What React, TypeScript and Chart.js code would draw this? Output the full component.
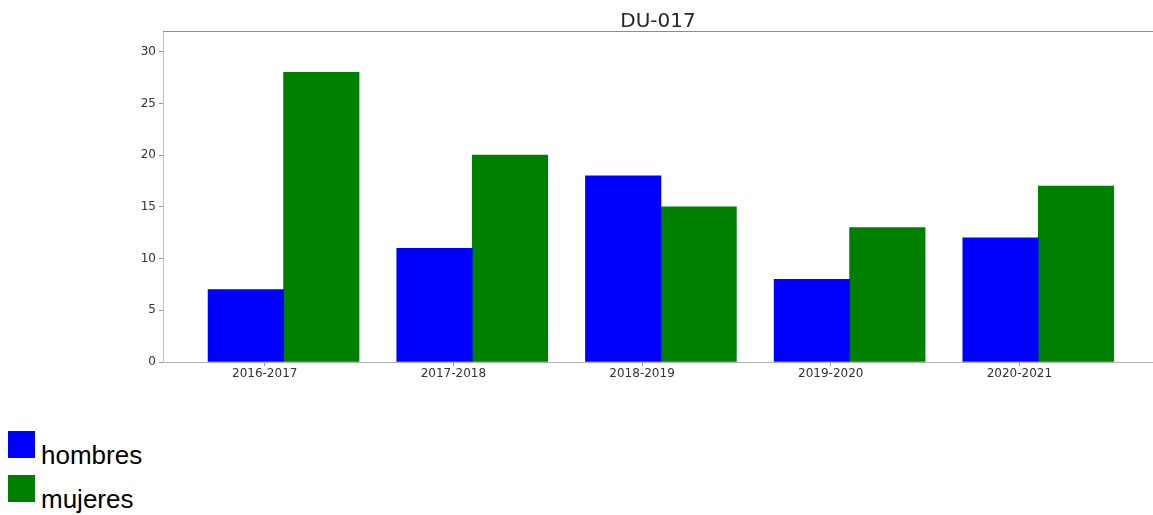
import React, { useEffect, useRef } from "react";
import { Chart, registerables } from "chart.js";

Chart.register(...registerables);

const categories = ["2016-2017", "2017-2018", "2018-2019", "2019-2020", "2020-2021"];
const hombres = [7, 11, 18, 8, 12];
const mujeres = [28, 20, 15, 13, 17];
const seriesNames = ["hombres", "mujeres"];
const seriesColors = ["#0000ff", "#008000"];
const titleText = "DU-017";

const topBorder = {
  id: "topBorder",
  afterDraw(chart: any) {
    const { ctx, chartArea } = chart;
    ctx.save();
    ctx.strokeStyle = "#8c8c8c";
    ctx.lineWidth = 1;
    ctx.beginPath();
    ctx.moveTo(chartArea.left, chartArea.top + 0.5);
    ctx.lineTo(chartArea.right, chartArea.top + 0.5);
    ctx.stroke();
    ctx.restore();
  },
};

export default function App() {
  const ref = useRef<HTMLCanvasElement>(null);

  useEffect(() => {
    if (!ref.current) return;
    const chart = new Chart(ref.current, {
      type: "bar",
      data: {
        datasets: [
          {
            label: seriesNames[0],
            data: hombres.map((v, i) => ({ x: i - 0.2, y: v })),
            backgroundColor: seriesColors[0],
            borderWidth: 0,
          },
          {
            label: seriesNames[1],
            data: mujeres.map((v, i) => ({ x: i + 0.2, y: v })),
            backgroundColor: seriesColors[1],
            borderWidth: 0,
          },
        ],
      },
      plugins: [topBorder],
      options: {
        animation: false,
        responsive: true,
        maintainAspectRatio: false,
        grouped: false,
        barPercentage: 1,
        categoryPercentage: 1,
        layout: { padding: { left: 0, right: 0, top: 0, bottom: 0 } },
        plugins: {
          legend: { display: false },
          tooltip: { enabled: false },
          title: {
            display: true,
            text: titleText,
            fullSize: false,
            color: "#262626",
            font: { family: "DejaVu Sans", size: 20, weight: "normal" },
            padding: { top: 10, bottom: -3 },
          },
        },
        scales: {
          x: {
            type: "linear",
            min: -0.639,
            max: 4.608,
            offset: false,
            grid: { display: true, drawOnChartArea: false, drawTicks: true, tickLength: 4, color: "#9a9a9a", offset: false },
            border: { display: true, color: "#b0b0b0", width: 1 },
            afterBuildTicks: (scale: any) => {
              scale.ticks = categories.map((_, i) => ({ value: i - 0.1 }));
            },
            afterFit: (scale: any) => {
              scale.height = 26;
            },
            ticks: {
              autoSkip: false,
              maxRotation: 0,
              padding: 1,
              color: "#333333",
              font: { family: "DejaVu Sans", size: 12 },
              callback: (_v: any, index: number) => categories[index],
            },
          },
          y: {
            type: "linear",
            min: 0,
            max: 32,
            grid: { display: true, drawOnChartArea: false, drawTicks: true, tickLength: 4, color: "#9a9a9a" },
            border: { display: true, color: "#c0c0c0", width: 1 },
            afterFit: (scale: any) => {
              scale.width = 163;
            },
            ticks: {
              stepSize: 5,
              includeBounds: false,
              padding: 3,
              color: "#333333",
              font: { family: "DejaVu Sans", size: 12 },
            },
          },
        },
      } as any,
    });
    return () => chart.destroy();
  }, []);

  const legendFont = '"Liberation Sans", Arial, sans-serif';

  return (
    <div style={{ position: "relative", width: 1153, height: 515, overflow: "hidden" }}>
      <style>{"body{margin:0}"}</style>
      <div style={{ position: "absolute", left: 0, top: 0, width: 1153, height: 388 }}>
        <canvas ref={ref} />
      </div>
      <div style={{ position: "absolute", left: 8, top: 431 }}>
        {seriesNames.map((name, i) => (
          <div key={name} style={{ position: "absolute", left: 0, top: i * 44, width: 200, height: 44 }}>
            <div
              style={{
                position: "absolute",
                left: 0,
                top: 0,
                width: 27,
                height: 27,
                background: seriesColors[i],
              }}
            />
            <span
              style={{
                position: "absolute",
                left: 33,
                top: 11,
                fontFamily: legendFont,
                fontSize: 26,
                lineHeight: "26px",
                color: "#000",
                whiteSpace: "nowrap",
              }}
            >
              {name}
            </span>
          </div>
        ))}
      </div>
    </div>
  );
}
